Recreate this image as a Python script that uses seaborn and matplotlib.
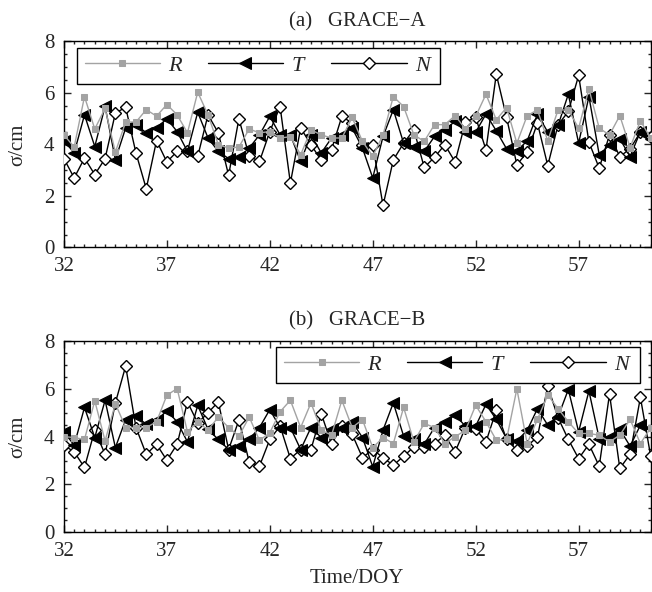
import numpy as np
import pandas as pd
import seaborn as sns
import matplotlib.pyplot as plt
from matplotlib.ticker import MultipleLocator

# day of year, every half day
days = np.arange(32.0, 60.51, 0.5)

# GRACE-A
a_R = [4.37, 3.9, 5.86, 4.6, 5.4, 3.7, 4.87, 4.87, 5.35, 5.1, 5.55, 5.15, 4.45, 6.03, 5.15, 3.99, 3.86, 3.9, 4.6, 4.45,
       4.5, 4.25, 4.3, 3.6, 4.57, 4.37, 4.25, 4.25, 5.05, 4.12, 3.54, 4.37, 5.86, 5.47, 4.37, 4.12, 4.77, 4.77, 5.12,
       4.6, 5.09, 5.95, 4.96, 5.43, 4.05, 5.12, 5.34, 4.14, 5.34, 5.34, 4.63, 6.16, 4.63, 4.37, 5.12, 3.88, 4.92, 4.24]
a_T = [4.15, 3.67, 5.15, 3.92, 5.48, 3.41, 4.64, 4.77, 4.45, 4.64, 5.0, 4.5, 3.73, 5.25, 4.25, 3.73, 3.45, 3.5, 3.86, 4.37,
       5.09, 4.37, 4.37, 3.34, 4.37, 3.67, 4.25, 4.37, 4.64, 3.86, 2.7, 4.31, 5.35, 4.05, 3.92, 3.73, 4.31, 4.57, 4.9,
       4.48, 4.48, 5.18, 4.53, 3.83, 3.75, 4.14, 5.18, 4.48, 4.74, 5.95, 4.05, 5.86, 3.6, 3.98, 4.22, 3.53, 4.5, 4.22]
a_N = [3.45, 2.7, 3.47, 2.83, 3.45, 5.22, 5.44, 3.67, 2.28, 4.15, 3.32, 3.73, 3.73, 3.54, 5.15, 4.45, 2.8, 5.0, 3.54, 3.34,
       4.5, 5.47, 2.5, 4.64, 3.99, 3.38, 3.8, 5.09, 4.83, 3.99, 3.99, 1.63, 3.4, 4.05, 4.57, 3.11, 3.5, 3.99, 3.32,
       4.87, 5.05, 3.79, 6.73, 5.05, 3.21, 3.7, 4.83, 3.18, 4.76, 5.28, 6.68, 4.09, 3.08, 4.37, 3.53, 3.83, 4.48, 4.27]

# GRACE-B
b_R = [4.0, 3.96, 3.88, 5.5, 3.82, 5.38, 4.38, 4.38, 4.38, 4.62, 5.73, 6.01, 4.2, 4.62, 4.27, 4.82, 4.38, 4.02, 4.82, 3.84,
       4.16, 5.04, 5.52, 4.38, 5.41, 4.27, 4.06, 5.52, 4.38, 4.71, 3.54, 3.96, 3.71, 5.22, 3.78, 4.55, 4.38, 3.71, 4.0,
       4.26, 5.31, 4.62, 3.85, 3.88, 6.0, 3.71, 4.72, 5.74, 5.17, 4.62, 4.13, 4.13, 4.06, 3.78, 4.06, 4.72, 3.71, 4.37]
b_T = [4.2, 3.64, 5.22, 3.96, 5.52, 3.54, 4.71, 4.85, 4.52, 4.68, 5.08, 4.62, 3.78, 5.31, 4.3, 3.88, 3.46, 3.6, 3.88, 4.38,
       5.13, 4.38, 4.38, 3.46, 4.38, 3.96, 4.3, 4.38, 4.62, 3.96, 2.74, 4.27, 5.41, 4.02, 3.88, 3.68, 4.38, 4.62, 4.9,
       4.44, 4.44, 5.35, 4.72, 3.92, 3.82, 4.26, 5.17, 4.48, 4.83, 5.97, 4.2, 5.91, 3.92, 3.99, 4.3, 3.6, 4.48, 4.37]
b_N = [3.64, 3.36, 2.71, 4.27, 3.26, 5.41, 6.95, 4.38, 3.26, 3.68, 3.01, 3.68, 5.45, 4.57, 5.0, 5.45, 3.46, 4.69, 2.94, 2.77,
       3.88, 4.44, 3.08, 3.46, 3.46, 4.96, 3.68, 4.44, 4.1, 3.12, 3.46, 3.12, 2.8, 3.18, 3.57, 3.55, 3.7, 4.06, 3.36,
       4.37, 4.33, 3.78, 5.1, 3.88, 3.43, 3.6, 3.99, 6.11, 4.79, 3.88, 3.08, 3.68, 2.76, 5.78, 2.67, 3.26, 5.64, 3.18]

panels = [("(a)   GRACE\u2212A", a_R, a_T, a_N), ("(b)   GRACE\u2212B", b_R, b_T, b_N)]
x_ticks = [32, 37, 42, 47, 52, 57]

sns.set_style("ticks")
plt.rcParams["font.family"] = "serif"
plt.rcParams["font.serif"] = ["Liberation Serif", "DejaVu Serif"]
plt.rcParams["mathtext.fontset"] = "custom"
plt.rcParams["mathtext.it"] = "Liberation Serif:italic"
plt.rcParams["mathtext.rm"] = "Liberation Serif"

fig = plt.figure(figsize=(6.52, 5.92), dpi=100)
ax_a = fig.add_axes([0.098, 0.582, 0.900, 0.348])
ax_b = fig.add_axes([0.098, 0.101, 0.900, 0.323])

for ax, (title, R, T, N) in zip([ax_a, ax_b], panels):
    df = pd.DataFrame({"day": days, "R": R, "T": T, "N": N})
    sns.lineplot(data=df, x="day", y="N", ax=ax, color="black", lw=1.0, marker="D", ms=6.5,
                 mfc="white", mec="black", mew=1.0, label="N", zorder=3)
    sns.lineplot(data=df, x="day", y="T", ax=ax, color="black", lw=1.0, marker="<", ms=8,
                 mfc="black", mec="black", label="T", zorder=4)
    sns.lineplot(data=df, x="day", y="R", ax=ax, color="#a3a3a3", lw=1.0, marker="s", ms=5,
                 mfc="#a3a3a3", mec="#a3a3a3", label="R", zorder=5)

    ax.set_xlim(32, 60.5)
    ax.set_ylim(0, 8)
    ax.set_xticks(x_ticks)
    ax.set_yticks([0, 2, 4, 6, 8])
    ax.xaxis.set_minor_locator(MultipleLocator(0.5))
    ax.yaxis.set_minor_locator(MultipleLocator(0.5))
    ax.tick_params(which="both", direction="in", top=True, right=True, labelsize=15, width=1.0)
    ax.tick_params(which="major", length=5)
    ax.tick_params(which="minor", length=2.5)
    ax.tick_params(axis="x", which="major", pad=7)
    ax.tick_params(axis="y", which="major", pad=7)
    for s in ax.spines.values():
        s.set_linewidth(1.0)
        s.set_color("black")
    ax.set_title(title, fontsize=15, pad=11)
    ax.set_ylabel("\u03c3/cm", fontsize=15, labelpad=12)
    ax.set_xlabel("")

    handles, labels = ax.get_legend_handles_labels()
    order = [labels.index(k) for k in ["R", "T", "N"]]
    if ax is ax_a:
        loc, anchor = "upper left", (0.022, 0.97)
    else:
        loc, anchor = "upper right", (0.981, 0.97)
    leg = ax.legend([handles[i] for i in order], ["$R$", "$T$", "$N$"],
                    loc=loc, bbox_to_anchor=anchor, borderaxespad=0, ncol=3, fontsize=16,
                    handlelength=3.4, columnspacing=1.1, handletextpad=0.35, fancybox=False,
                    framealpha=1, edgecolor="black", borderpad=0.35)
    leg.get_frame().set_linewidth(1.0)

ax_b.set_xlabel("Time/DOY", fontsize=15, labelpad=6)

fig.savefig("out.png", dpi=100)
